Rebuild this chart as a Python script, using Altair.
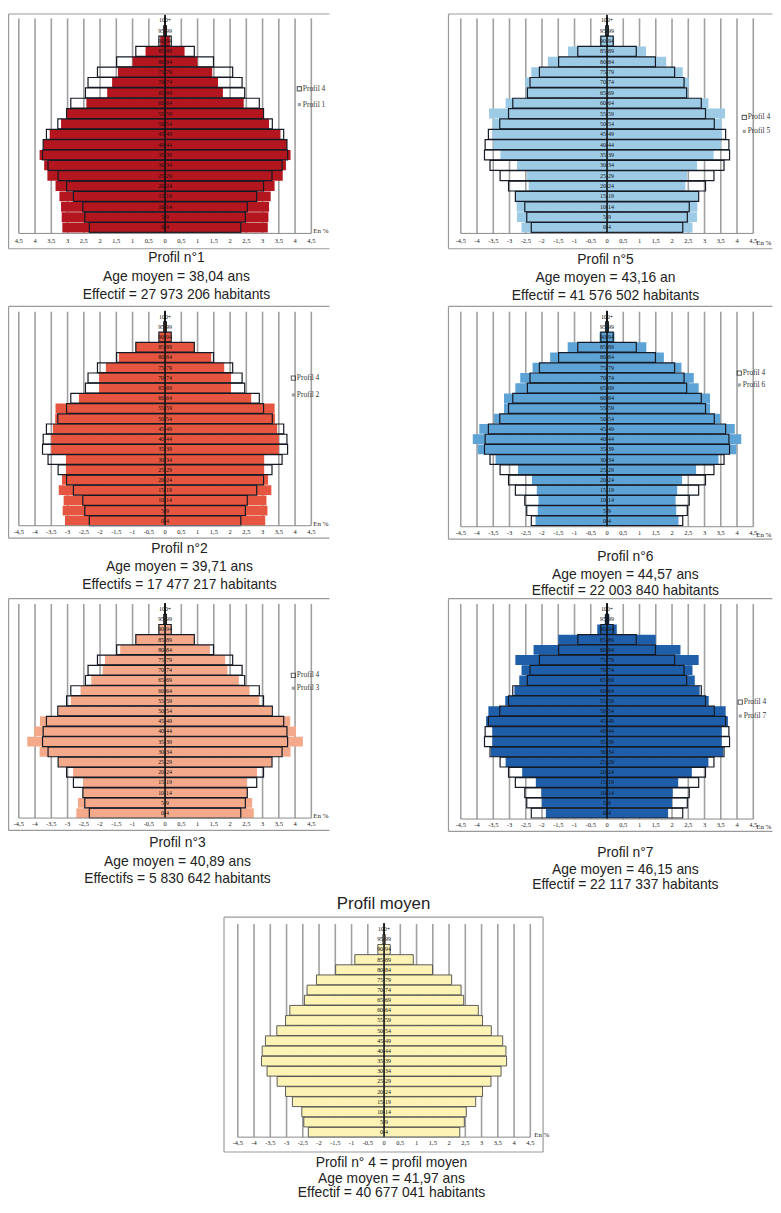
import altair as alt
import pandas as pd

# ---------------- data ----------------
ages = ["0-4", "5-9", "10-14", "15-19", "20-24", "25-29", "30-34", "35-39",
        "40-44", "45-49", "50-54", "55-59", "60-64", "65-69", "70-74", "75-79",
        "80-84", "85-89", "90-94", "95-99", "100+"]
tick_values = [-4.5, -4, -3.5, -3, -2.5, -2, -1.5, -1, -0.5, 0,
               0.5, 1, 1.5, 2, 2.5, 3, 3.5, 4, 4.5]

# share of population (%) per age group, drawn on both sides of the pyramid
profil_4 = [2.33, 2.47, 2.53, 2.82, 3.03, 3.29, 3.60, 3.77, 3.75, 3.65, 3.30,
            3.03, 2.90, 2.45, 2.37, 2.08, 1.49, 0.90, 0.19, 0.04, 0.01]
profil_1 = [3.16, 3.18, 3.20, 3.25, 3.37, 3.62, 3.72, 3.86, 3.75, 3.55, 3.20,
            3.03, 2.42, 1.78, 1.63, 1.45, 1.00, 0.60, 0.15, 0.04, 0.01]
profil_5 = [2.63, 2.77, 2.78, 2.80, 2.41, 2.46, 2.77, 3.28, 3.50, 3.53, 3.52,
            3.63, 3.12, 2.50, 2.52, 2.33, 1.82, 1.20, 0.22, 0.05, 0.01]
profil_2 = [3.08, 3.15, 3.12, 3.27, 3.17, 3.05, 3.05, 3.50, 3.50, 3.45, 3.38,
            3.37, 2.65, 2.03, 2.03, 1.82, 1.42, 0.90, 0.18, 0.04, 0.01]
profil_6 = [2.20, 2.13, 2.11, 2.16, 2.31, 2.74, 3.43, 3.98, 4.13, 3.93, 3.48,
            3.17, 3.17, 2.82, 2.67, 2.29, 1.75, 1.21, 0.23, 0.06, 0.01]
profil_3 = [2.73, 2.68, 2.52, 2.52, 2.83, 3.28, 3.86, 4.24, 4.03, 3.85, 3.28,
            2.90, 2.60, 2.27, 1.92, 1.85, 1.38, 0.90, 0.18, 0.04, 0.01]
profil_7 = [1.88, 2.00, 2.02, 2.19, 2.61, 3.12, 3.57, 3.53, 3.53, 3.72, 3.65,
            3.13, 2.85, 2.70, 2.63, 2.82, 2.26, 1.50, 0.30, 0.07, 0.01]

titles = {
    1: ["Profil n°1", "Age moyen = 38,04 ans", "Effectif = 27 973 206 habitants"],
    5: ["Profil n°5", "Age moyen = 43,16 an", "Effectif = 41 576 502 habitants"],
    2: ["Profil n°2", "Age moyen = 39,71 ans", "Effectifs = 17 477 217 habitants"],
    6: ["Profil n°6", "Age moyen = 44,57 ans", "Effectif = 22 003 840 habitants"],
    3: ["Profil n°3", "Age moyen = 40,89 ans", "Effectifs = 5 830 642 habitants"],
    7: ["Profil n°7", "Age moyen = 46,15 ans", "Effectif = 22 117 337 habitants"],
    4: ["Profil n° 4 = profil moyen", "Age moyen = 41,97 ans", "Effectif = 40 677 041 habitants"],
}
legend_names = ["Profil 4", "Profil {}"]
top_title_4 = "Profil moyen"
unit_label = "En %"

# ---------------- styles / layout ----------------
colors = {1: "#B3161F", 2: "#E6553F", 3: "#F4A98B", 4: "#FCF3B4",
          5: "#9DCBE6", 6: "#5DA3D6", 7: "#1F5FAA"}
K = 32.8                      # pixels per percentage point
SERIF = "Liberation Serif"
SANS = "Liberation Sans"

LAYOUT = {
    1: dict(left=8, W=325, zero=166.5, T=8, H=295, c20=15, c0=224, grid_top=13, axis=230, ticks=237.5,
            frame=[(8.6, 8.6, 332.4, 8.6), (8.6, 245.5, 332.4, 245.5), (8.6, 8.6, 8.6, 245.5)],
            title_x=178, title_y=[255, 274, 292], leg_x=302, leg_y=[84, 100], en=(316, 228), signed=False),
    2: dict(left=8, W=325, zero=166.5, T=303, H=295, c20=314, c0=520, grid_top=309, axis=525, ticks=531,
            frame=[(8.6, 303.6, 332.4, 303.6), (8.6, 537.5, 332.4, 537.5), (8.6, 303.6, 8.6, 537.5)],
            title_x=181, title_y=[549, 567, 585], leg_x=296, leg_y=[376, 393], en=(316, 523), signed=True),
    3: dict(left=8, W=325, zero=166.5, T=598, H=299, c20=609, c0=815, grid_top=604, axis=820, ticks=826,
            frame=[(8.6, 598.6, 332.4, 598.6), (8.6, 832.5, 332.4, 832.5), (8.6, 598.6, 8.6, 832.5)],
            title_x=179, title_y=[845, 864, 882], leg_x=296, leg_y=[676, 689], en=(316, 818), signed=True),
    5: dict(left=451, W=329, zero=612.5, T=8, H=295, c20=15, c0=224, grid_top=13, axis=230, ticks=238,
            frame=[(452.5, 8.6, 779.4, 8.6), (452.5, 245.5, 779.4, 245.5), (452.5, 8.6, 452.5, 245.5)],
            title_x=611, title_y=[257, 275, 293], leg_x=751, leg_y=[113, 127], en=(763, 240), signed=True),
    6: dict(left=451, W=329, zero=612.5, T=303, H=295, c20=314, c0=520, grid_top=309, axis=526, ticks=532,
            frame=[(452.5, 303.6, 779.4, 303.6), (452.5, 538.5, 779.4, 538.5), (452.5, 303.6, 452.5, 538.5)],
            title_x=631, title_y=[557, 575, 591], leg_x=746, leg_y=[371, 383], en=(763, 534), signed=True),
    7: dict(left=451, W=329, zero=612.5, T=598, H=299, c20=609, c0=815, grid_top=604, axis=821, ticks=827,
            frame=[(452.5, 598.6, 779.4, 598.6), (452.5, 833.5, 779.4, 833.5), (452.5, 598.6, 452.5, 833.5)],
            title_x=631, title_y=[855, 872, 888], leg_x=747, leg_y=[703, 717], en=(763, 829), signed=True),
    4: dict(left=8, W=772, zero=387.5, T=897, H=308, c20=932, c0=1137, grid_top=927, axis=1142, ticks=1148,
            frame=[(226, 920, 548, 920), (226, 1157, 548, 1157), (226, 920, 226, 1157), (548, 920, 548, 1157)],
            title_x=395, title_y=[1168, 1184, 1198], leg_x=None, leg_y=None, en=(539, 1140), signed=True,
            top_title=(387, 907)),
}


def tick_text(v, signed):
    a = v if signed else abs(v)
    return ("%g" % a).replace(".", ",")


def panel(n, values):
    L = LAYOUT[n]
    k = (L["c0"] - L["c20"]) / 20.0
    ymax = 20 + (L["c20"] - L["T"]) / k
    ymin = ymax - L["H"] / k

    def vy(p):
        return ymax - (p - L["T"]) / k

    def vx(p):
        return (p - L["zero"]) / K

    xs = alt.Scale(domain=[vx(L["left"]), vx(L["left"] + L["W"])], nice=False, zero=False)
    ys = alt.Scale(domain=[ymin, ymax], nice=False, zero=False)
    X = alt.X("x:Q", scale=xs, axis=None)
    Y = alt.Y("y:Q", scale=ys, axis=None)

    layers = []
    # vertical grid
    grid = pd.DataFrame({"x": tick_values, "y": vy(L["grid_top"]), "y2": vy(L["axis"])})
    layers.append(alt.Chart(grid).mark_rule(color="#a0a0a0", strokeWidth=1.6)
                  .encode(x=X, y=Y, y2="y2:Q"))

    idx = list(range(len(ages)))
    bars = pd.DataFrame({"age": ages, "x": [-v for v in values], "x2": values,
                         "y": [i - 0.48 for i in idx], "y2": [i + 0.48 for i in idx]})
    if n == 4:
        layers.append(alt.Chart(bars).mark_rect(color=colors[4], stroke="#4a4a4a", strokeWidth=0.9)
                      .encode(x=X, x2="x2:Q", y=Y, y2="y2:Q"))
    else:
        ref = pd.DataFrame({"age": ages, "x": [-v for v in profil_4], "x2": profil_4,
                            "y": [i - 0.48 for i in idx], "y2": [i + 0.48 for i in idx]})
        layers.append(alt.Chart(bars).mark_rect(color=colors[n])
                      .encode(x=X, x2="x2:Q", y=Y, y2="y2:Q"))
        layers.append(alt.Chart(ref).mark_rect(fillOpacity=0, stroke="#151a24", strokeWidth=1.2)
                      .encode(x=X, x2="x2:Q", y=Y, y2="y2:Q"))

    # central axis line
    center = pd.DataFrame({"x": [0], "y": [vy(L["grid_top"] - 1)], "y2": [vy(L["axis"])]})
    layers.append(alt.Chart(center).mark_rule(color="#111111", strokeWidth=1.6)
                  .encode(x=X, y=Y, y2="y2:Q"))

    # age labels
    lab = pd.DataFrame({"x": 0, "y": idx, "t": ages})
    layers.append(alt.Chart(lab).mark_text(font=SERIF, fontSize=6, color="#111111",
                                           baseline="middle", align="center")
                  .encode(x=X, y=Y, text="t:N"))

    # bottom axis line + tick labels
    axis = pd.DataFrame({"x": [-4.5], "x2": [4.5], "y": [vy(L["axis"])]})
    layers.append(alt.Chart(axis).mark_rule(color="#8a8a8a", strokeWidth=1)
                  .encode(x=X, x2="x2:Q", y=Y))
    ticks = pd.DataFrame({"x": tick_values, "y": vy(L["ticks"]),
                          "t": [tick_text(v, L["signed"]) for v in tick_values]})
    layers.append(alt.Chart(ticks).mark_text(font=SERIF, fontSize=6.5, color="#222222",
                                             baseline="middle", align="center")
                  .encode(x=X, y=Y, text="t:N"))

    # "En %"
    en = pd.DataFrame({"x": [vx(L["en"][0])], "y": [vy(L["en"][1])], "t": [unit_label]})
    layers.append(alt.Chart(en).mark_text(font=SERIF, fontSize=7, color="#222222", clip=True,
                                          baseline="middle", align="left")
                  .encode(x=X, y=Y, text="t:N"))

    # legend
    if L["leg_x"] is not None:
        leg_o = pd.DataFrame({"x": [vx(L["leg_x"])], "y": [vy(L["leg_y"][0])]})
        leg_f = pd.DataFrame({"x": [vx(L["leg_x"])], "y": [vy(L["leg_y"][1])]})
        leg_t = pd.DataFrame({"x": [vx(L["leg_x"] + 3.5)] * 2,
                              "y": [vy(L["leg_y"][0]), vy(L["leg_y"][1])],
                              "t": [legend_names[0], legend_names[1].format(n)]})
        layers.append(alt.Chart(leg_o).mark_square(size=18, filled=False, color="#222222", strokeWidth=1.1)
                      .encode(x=X, y=Y))
        layers.append(alt.Chart(leg_f).mark_square(size=10, color="#7a7a7a")
                      .encode(x=X, y=Y))
        layers.append(alt.Chart(leg_t).mark_text(font=SERIF, fontSize=7.5, color="#333333", clip=True,
                                                 baseline="middle", align="left")
                      .encode(x=X, y=Y, text="t:N"))

    # frame
    fr = pd.DataFrame({"x": [vx(s[0]) for s in L["frame"]], "y": [vy(s[1]) for s in L["frame"]],
                       "x2": [vx(s[2]) for s in L["frame"]], "y2": [vy(s[3]) for s in L["frame"]]})
    layers.append(alt.Chart(fr).mark_rule(color="#9a9a9a", strokeWidth=1.2)
                  .encode(x=X, y=Y, x2="x2:Q", y2="y2:Q"))

    # caption lines under the pyramid
    cap = pd.DataFrame({"x": vx(L["title_x"]), "y": [vy(p) for p in L["title_y"]], "t": titles[n]})
    layers.append(alt.Chart(cap).mark_text(font=SANS, fontSize=14, color="#222222",
                                           baseline="middle", align="center")
                  .encode(x=X, y=Y, text="t:N"))

    if "top_title" in L:
        tt = pd.DataFrame({"x": [vx(L["top_title"][0])], "y": [vy(L["top_title"][1])], "t": [top_title_4]})
        layers.append(alt.Chart(tt).mark_text(font=SANS, fontSize=17, color="#222222",
                                              baseline="middle", align="center")
                      .encode(x=X, y=Y, text="t:N"))

    return alt.layer(*layers).properties(width=L["W"], height=L["H"])


p1 = panel(1, profil_1)
p2 = panel(2, profil_2)
p3 = panel(3, profil_3)
p5 = panel(5, profil_5)
p6 = panel(6, profil_6)
p7 = panel(7, profil_7)
p4 = panel(4, profil_4)

left_col = alt.vconcat(p1, p2, p3, spacing=0, bounds="flush")
right_col = alt.vconcat(p5, p6, p7, spacing=0, bounds="flush")
top = alt.hconcat(left_col, right_col, spacing=118, bounds="full")
chart = (alt.vconcat(top, p4, spacing=0, bounds="full")
         .properties(padding=0, background="white")
         .configure_view(stroke=None, fill="white"))

chart.save("out.html", embed_options={"renderer": "svg", "actions": False})
